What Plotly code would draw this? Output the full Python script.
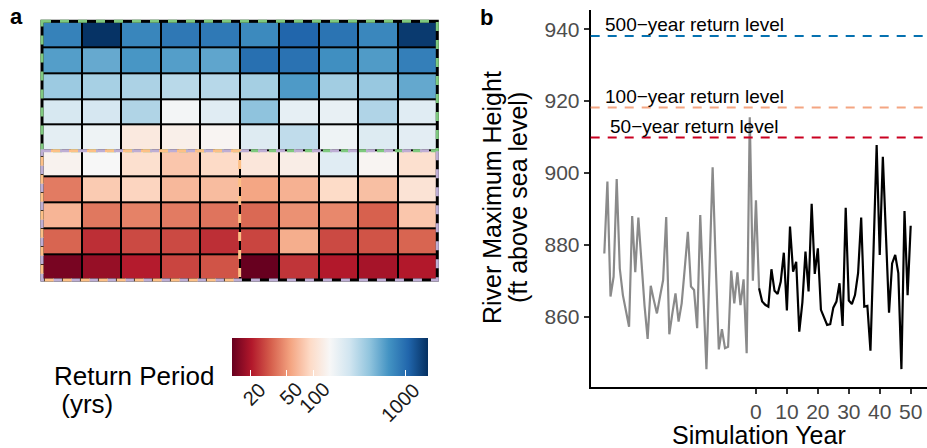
import numpy as np
import plotly.graph_objects as go

# ---------------- Panel a data: return period (yrs) per cell, top row first ----------------
cols = list(range(1, 11))
rows = list(range(1, 11))
return_period = [
    [796, 1734, 762, 888, 879, 728, 1083, 929, 754, 1618],
    [591, 530, 640, 591, 552, 971, 947, 690, 609, 820],
    [371, 340, 328, 295, 300, 345, 615, 355, 384, 535],
    [227, 229, 318, 157, 200, 410, 186, 182, 317, 200],
    [191, 168, 116, 129, 142, 207, 280, 168, 209, 194],
    [136, 149, 99, 75, 91, 110, 125, 200, 142, 99],
    [41, 78, 86, 66, 68, 56, 62, 92, 70, 105],
    [64, 40, 43, 41, 39, 36, 48, 45, 34, 75],
    [35, 24, 29, 29, 24, 28, 60, 29, 31, 35],
    [14, 17, 21, 28, 31, 12.5, 25, 20.5, 19, 20.5],
]
cbar_ticks = [20, 50, 100, 1000]
cbar_limits = [12.5, 1775]

# ---------------- Panel b data ----------------
hist_years = list(range(-49, 2))
hist_height = [877.6, 897.6, 865.6, 871.1, 898.3, 873.4, 866.0, 862.0, 857.2, 888.0,
               872.4, 887.6, 874.0, 863.0, 853.8, 868.6, 864.6, 860.9, 865.6, 870.2,
               887.7, 855.1, 861.0, 866.5, 858.6, 863.7, 873.5, 883.6, 868.4, 867.4,
               856.8, 888.3, 866.5, 845.4, 873.6, 901.6, 874.6, 850.9, 856.5, 851.2,
               851.6, 872.8, 863.7, 872.3, 863.2, 870.4, 849.8, 915.5, 870.0, 892.4,
               867.9]
sim_years = list(range(1, 51))
sim_height = [867.9, 864.2, 863.3, 862.8, 873.2, 867.2, 866.3, 869.7, 877.8, 861.7,
              885.1, 872.5, 875.3, 855.8, 864.0, 878.1, 867.0, 891.4, 871.9, 879.0,
              861.9, 860.0, 857.7, 857.9, 862.5, 864.2, 869.3, 857.4, 890.3, 864.5,
              863.5, 866.0, 872.1, 887.6, 862.8, 863.0, 850.5, 878.6, 907.8, 877.2,
              904.5, 882.8, 861.1, 874.8, 877.2, 872.1, 845.4, 889.4, 866.0, 885.3]
level_names = ["500\u2212year return level", "100\u2212year return level", "50\u2212year return level"]
level_values = [938.1, 918.2, 909.9]
level_colors = ["#0571b0", "#f4a582", "#ca0020"]
x_ticks = [0, 10, 20, 30, 40, 50]
y_ticks = [860, 880, 900, 920, 940]

# ---------------- figure ----------------
W, H = 927, 448
FONT = "Liberation Sans, Arial, Helvetica, sans-serif"
rdbu = ['#67001f', '#b2182b', '#d6604d', '#f4a582', '#fddbc7', '#f7f7f7',
        '#d1e5f0', '#92c5de', '#4393c3', '#2166ac', '#053061']
colorscale = [[i / 10, c] for i, c in enumerate(rdbu)]

# heatmap cell area (pixels) and a small pad so outlines are not clipped
HM_L, HM_R, HM_T, HM_B = 42.0, 437.3, 21.3, 280.0
PAD = 0.12  # in cell units
cw = (HM_R - HM_L) / len(cols)
ch = (HM_B - HM_T) / len(rows)

# colorbar geometry (pixels)
CB_X0, CB_X1, CB_Y0, CB_Y1 = 231.7, 427.7, 338.3, 376.7
zmin, zmax = np.log10(cbar_limits[0]), np.log10(cbar_limits[1])


def px_x(p):
    return p / W


def px_y(p):
    return 1 - p / H


def cb_px(v):
    return CB_X0 + (np.log10(v) - zmin) / (zmax - zmin) * (CB_X1 - CB_X0)


fig = go.Figure()

fig.add_trace(go.Heatmap(
    z=np.log10(np.array(return_period, dtype=float)), x=cols, y=rows,
    colorscale=colorscale, zmin=zmin, zmax=zmax,
    xgap=2, ygap=2, xaxis='x', yaxis='y', hoverinfo='skip',
    colorbar=dict(
        orientation='h', x=px_x((CB_X0 + CB_X1) / 2), xanchor='center', y=px_y(CB_Y0), yanchor='top',
        len=(CB_X1 - CB_X0) / W, lenmode='fraction', thickness=CB_Y1 - CB_Y0, thicknessmode='pixels',
        outlinewidth=0, xpad=0, ypad=0,
        tickvals=list(np.log10(cbar_ticks)), ticktext=[str(t) for t in cbar_ticks],
        ticks='inside', ticklen=6, tickcolor='white', tickwidth=1, showticklabels=False,
    ),
))

fig.add_trace(go.Scatter(x=hist_years, y=hist_height, mode='lines',
                         line=dict(color='#8a8a8a', width=2.2), xaxis='x2', yaxis='y2',
                         hoverinfo='skip'))
fig.add_trace(go.Scatter(x=sim_years, y=sim_height, mode='lines',
                         line=dict(color='black', width=2.2), xaxis='x2', yaxis='y2',
                         hoverinfo='skip'))

shapes = []
# black background behind heatmap cells -> cell borders
shapes.append(dict(type='rect', xref='x', yref='y', x0=0.5, x1=10.5, y0=0.5, y1=10.5,
                   fillcolor='black', line=dict(width=0), layer='below'))
shapes.append(dict(type='rect', xref='x', yref='y', x0=0.5, x1=10.5, y0=0.5, y1=10.5,
                   line=dict(color='black', width=3), layer='above'))
# dashed group outlines
shapes.append(dict(type='rect', xref='x', yref='y', x0=0.5, x1=10.5, y0=0.5, y1=5.5,
                   line=dict(color='#7FC97F', width=3, dash='9px,9px'), layer='above'))
shapes.append(dict(type='rect', xref='x', yref='y', x0=0.5, x1=10.5, y0=5.5, y1=10.5,
                   line=dict(color='#BEAED4', width=3, dash='9px,9px'), layer='above'))
shapes.append(dict(type='rect', xref='x', yref='y', x0=0.5, x1=5.5, y0=5.5, y1=10.5,
                   line=dict(color='#FDC086', width=3, dash='0px,9px,9px,0px'), layer='above'))
# white colorbar ticks on the top edge too
for t in cbar_ticks:
    shapes.append(dict(type='line', xref='paper', yref='paper', x0=px_x(cb_px(t)), x1=px_x(cb_px(t)),
                       y0=px_y(CB_Y0), y1=px_y(CB_Y0 + 6), line=dict(color='white', width=1),
                       layer='above'))
# return level lines
for val, col in zip(level_values, level_colors):
    shapes.append(dict(type='line', xref='x2 domain', yref='y2', x0=0, x1=1, y0=val, y1=val,
                       line=dict(color=col, width=2, dash='9px,8px'), layer='above'))

annotations = []
for name, val in zip(level_names, level_values):
    annotations.append(dict(x=-20, y=val + 3.1, xref='x2', yref='y2', text=name, showarrow=False,
                            xanchor='center', yanchor='middle',
                            font=dict(size=19, color='black', family=FONT)))
# colorbar tick labels (rotated 45 degrees)
for t in cbar_ticks:
    annotations.append(dict(x=px_x(cb_px(t) + 21), y=px_y(CB_Y1 + 0.5), xref='paper', yref='paper',
                            text=str(t), showarrow=False, textangle=-45,
                            xanchor='right', yanchor='top', borderpad=0,
                            font=dict(size=20, color='#1a1a1a', family=FONT)))
annotations += [
    dict(x=px_x(16.7), y=px_y(16.3), xref='paper', yref='paper', text='<b>a</b>', showarrow=False,
         xanchor='center', yanchor='middle', font=dict(size=22, color='black', family=FONT)),
    dict(x=px_x(486.7), y=px_y(17.3), xref='paper', yref='paper', text='<b>b</b>', showarrow=False,
         xanchor='center', yanchor='middle', font=dict(size=22, color='black', family=FONT)),
    dict(x=px_x(52), y=px_y(376), xref='paper', yref='paper', text='Return Period', showarrow=False,
         xanchor='left', yanchor='middle', font=dict(size=26, color='black', family=FONT)),
    dict(x=px_x(52), y=px_y(404), xref='paper', yref='paper', text=' (yrs)', showarrow=False,
         xanchor='left', yanchor='middle', font=dict(size=26, color='black', family=FONT)),
    dict(x=px_x(492), y=px_y(198), xref='paper', yref='paper', text='River Maximum Height',
         showarrow=False, textangle=-90, xanchor='center', yanchor='middle',
         font=dict(size=25, color='black', family=FONT)),
    dict(x=px_x(518), y=px_y(198), xref='paper', yref='paper', text='(ft above sea level)',
         showarrow=False, textangle=-90, xanchor='center', yanchor='middle',
         font=dict(size=25, color='black', family=FONT)),
    dict(x=px_x(758.9), y=px_y(434.5), xref='paper', yref='paper', text='Simulation Year',
         showarrow=False, xanchor='center', yanchor='middle',
         font=dict(size=25, color='black', family=FONT)),
]

axis_common = dict(showgrid=False, zeroline=False, showline=True, linecolor='black', linewidth=2,
                   ticks='outside', ticklen=5, tickwidth=1.5, tickcolor='#333333',
                   tickfont=dict(size=21, color='#4d4d4d', family=FONT))

fig.update_layout(
    width=W, height=H, margin=dict(l=0, r=0, t=0, b=0),
    paper_bgcolor='white', plot_bgcolor='white', showlegend=False,
    font=dict(family=FONT, color='black'),
    xaxis=dict(domain=[px_x(HM_L - PAD * cw), px_x(HM_R + PAD * cw)],
               range=[0.5 - PAD, 10.5 + PAD], visible=False, anchor='y'),
    yaxis=dict(domain=[px_y(HM_B + PAD * ch), px_y(HM_T - PAD * ch)],
               range=[10.5 + PAD, 0.5 - PAD], visible=False, anchor='x'),
    xaxis2=dict(domain=[px_x(590.7), 1.0], range=[-53.4, 55.27], tickvals=x_ticks, anchor='y2',
                **axis_common),
    yaxis2=dict(domain=[px_y(386.7), px_y(10)], range=[840.5, 945.37], tickvals=y_ticks, anchor='x2',
                **axis_common),
    shapes=shapes, annotations=annotations,
)

fig.write_html("out.html", config={'displayModeBar': False},
               post_script="document.body.style.margin='0px';document.body.style.overflow='hidden';")
